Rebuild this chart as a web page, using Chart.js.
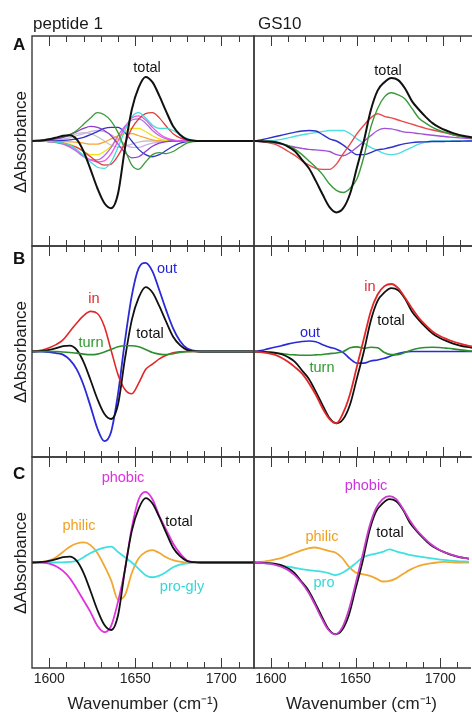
<!DOCTYPE html>
<html><head><meta charset="utf-8">
<script src="https://cdn.jsdelivr.net/npm/chart.js@4.4.1/dist/chart.umd.min.js"></script>
<style>
html,body{margin:0;padding:0;background:#fff;overflow:hidden;width:472px;height:716px;}
body{position:relative;font-family:"Liberation Sans",Arial,sans-serif;color:#1a1a1a;}
.t{position:absolute;white-space:nowrap;line-height:1;transform:translate(-50%,-50%);}
.ytitle{position:absolute;white-space:nowrap;line-height:1;font-size:17px;transform:translate(-50%,-50%) rotate(-90deg);}
</style></head><body>
<script>
// ---------- DATA ----------
const tickMarks = [1600,1610,1620,1630,1640,1650,1660,1670,1680,1690,1700,1710];
const tickLabels = [1600,1650,1700];

// peptide 1 (left column) wavenumber grid
const wnPeptide = [1590,1596,1600,1604,1608,1612,1616,1620,1624,1628,1632,1636,1640,1644,1648,1652,1656,1660,1664,1668,1672,1676,1680,1684,1688,1694,1700,1719];
const p1Total   = [0,0.005,0.016,0.032, 0.05,0.055,0.015,-0.1, -0.27,-0.45,-0.59,-0.64, -0.5,-0.07,0.3,0.51, 0.61,0.56,0.43,0.28, 0.14,0.06,0.015,0.003, 0,0,0,0];
const p1Green   = [0,0.01,0.02,0.03, 0.045,0.06,0.1,0.16, 0.22,0.27,0.25,0.19, 0.08,-0.08,-0.23,-0.27, -0.2,-0.13,-0.11,-0.12, -0.1,-0.06,-0.02,-0.005, 0,0,0,0];
const p1Cyan    = [0,0,-0.005,-0.01, -0.02,-0.04,-0.08,-0.14, -0.2,-0.25,-0.26,-0.2, -0.06,0.1,0.23,0.27, 0.22,0.15,0.12,0.12, 0.1,0.06,0.025,0.008, 0,0,0,0];
const p1Red     = [0,0,-0.005,-0.01, -0.02,-0.04,-0.06,-0.1, -0.15,-0.2,-0.23,-0.22, -0.14,-0.02,0.12,0.21, 0.26,0.27,0.22,0.14, 0.07,0.03,0.01,0.003, 0,0,0,0];
const p1Magenta = [0,0,-0.005,-0.01, -0.025,-0.05,-0.09,-0.14, -0.18,-0.2,-0.19,-0.12, 0,0.13,0.22,0.24, 0.2,0.13,0.07,0.03, 0.01,0,0,0, 0,0,0,0];
const p1Purple  = [0,0.005,0.01,0.02, 0.035,0.06,0.09,0.12, 0.14,0.13,0.1,0.05, -0.03,-0.11,-0.16,-0.15, -0.1,-0.05,-0.02,-0.005, 0,0,0,0, 0,0,0,0];
const p1Violet  = [0,0,-0.005,-0.015, -0.03,-0.06,-0.1,-0.15, -0.18,-0.18,-0.14,-0.06, 0.05,0.14,0.2,0.21, 0.17,0.1,0.05,0.02, 0.005,0,0,0, 0,0,0,0];
const p1Blue    = [0,0,0,0.002, 0.005,0.01,0.02,0.035, 0.06,0.09,0.12,0.13, 0.13,0.08,0,-0.08, -0.13,-0.15,-0.13,-0.09, -0.05,-0.02,-0.005,0, 0,0,0,0];
const p1Gray    = [0,0.005,0.01,0.02, 0.035,0.05,0.07,0.08, 0.07,0.04,0,-0.04, -0.06,-0.05,-0.03,-0.01, 0,0,0,0, 0,0,0,0, 0,0,0,0];
const p1Yellow  = [0,0,0,-0.005, -0.015,-0.03,-0.06,-0.1, -0.13,-0.13,-0.1,-0.05, 0.02,0.08,0.12,0.12, 0.09,0.05,0.02,0.005, 0,0,0,0, 0,0,0,0];
const p1Orange  = [0,0,0,0, -0.005,-0.008,-0.012,-0.02, -0.03,-0.03,-0.01,0.02, 0.05,0.07,0.07,0.05, 0.03,0.01,0,0, 0,0,0,0, 0,0,0,0];
const p1Lavender= [0,0,0.005,0.01, 0.02,0.03,0.05,0.07, 0.09,0.1,0.09,0.06, 0.02,-0.03,-0.06,-0.06, -0.04,-0.02,-0.01,0, 0,0,0,0, 0,0,0,0];
const p1Out     = [0,0,-0.005,-0.015, -0.03,-0.08,-0.17,-0.32, -0.52,-0.73,-0.85,-0.76, -0.4,0.1,0.53,0.79, 0.84,0.76,0.58,0.39, 0.22,0.1,0.03,0.008, 0,0,0,0];
const p1In      = [0,0.015,0.035,0.065, 0.11,0.19,0.27,0.34, 0.38,0.36,0.24,0.01, -0.22,-0.36,-0.4,-0.3, -0.17,-0.12,-0.07,-0.035, -0.012,-0.003,0,0, 0,0,0,0];
const p1Turn    = [0,0,0,0, -0.005,-0.01,-0.015,-0.025, -0.03,-0.025,-0.005,0.02, 0.045,0.055,0.055,0.045, 0.02,-0.01,-0.025,-0.03, -0.02,-0.01,-0.003,0, 0,0,0,0];
const p1Phobic  = [0,0,-0.01,-0.035, -0.08,-0.15,-0.25,-0.36, -0.47,-0.6,-0.66,-0.6, -0.37,-0.07,0.33,0.6, 0.67,0.6,0.44,0.31, 0.18,0.086,0.02,0.005, 0,0,0,0];
const p1Philic  = [0,0.005,0.02,0.05, 0.1,0.15,0.18,0.19, 0.165,0.09,-0.03,-0.17, -0.35,-0.31,-0.1,0.04, 0.1,0.117,0.09,0.05, 0.022,0.008,0,0, 0,0,0,0];
const p1ProGly  = [0,0,0,0, 0.002,0.005,0.015,0.05, 0.09,0.12,0.14,0.15, 0.1,0.05,0,-0.06, -0.12,-0.14,-0.125,-0.09, -0.045,-0.02,-0.008,0, 0,0,0,0];

// GS10 (right column) wavenumber grid
const wnGS10 = [1590,1594,1598,1602,1606,1610,1614,1618,1622,1626,1630,1634,1638,1642,1646,1650,1654,1658,1662,1666,1670,1674,1678,1682,1686,1690,1694,1698,1702,1706,1710,1714,1718];
const gsTotal  = [0,-0.002,-0.005,-0.01, -0.025,-0.055,-0.1,-0.18, -0.26,-0.38,-0.51,-0.63, -0.68,-0.64,-0.5,-0.25, 0,0.29,0.48,0.56, 0.6,0.58,0.5,0.38, 0.3,0.23,0.17,0.13, 0.1,0.075,0.056,0.043, 0.033];
const gsGreen  = [0,-0.002,-0.005,-0.012, -0.025,-0.045,-0.08,-0.13, -0.19,-0.25,-0.32,-0.41, -0.47,-0.49,-0.45,-0.36, -0.15,0.13,0.31,0.42, 0.46,0.44,0.4,0.31, 0.22,0.17,0.13,0.1, 0.08,0.06,0.045,0.035, 0.025];
const gsRed    = [0,-0.005,-0.015,-0.03, -0.06,-0.1,-0.14,-0.19, -0.23,-0.26,-0.27,-0.27, -0.22,-0.12,-0.03,0.07, 0.15,0.22,0.26,0.235, 0.22,0.2,0.18,0.16, 0.14,0.12,0.105,0.09, 0.075,0.06,0.045,0.035, 0.026];
const gsPurple = [0,-0.005,-0.01,-0.02, -0.03,-0.045,-0.06,-0.07, -0.08,-0.085,-0.09,-0.1, -0.13,-0.14,-0.11,-0.06, -0.005,0.05,0.1,0.12, 0.115,0.1,0.085,0.08, 0.07,0.062,0.055,0.048, 0.04,0.035,0.03,0.025, 0.02];
const gsBlue   = [0,0.01,0.025,0.04, 0.055,0.07,0.085,0.095, 0.1,0.095,0.06,0.02, 0,-0.04,-0.09,-0.13, -0.13,-0.11,-0.085,-0.075, -0.06,-0.04,-0.025,-0.015, -0.01,-0.008,-0.005,-0.005, -0.004,-0.003,-0.002,0, 0];
const gsCyan   = [0,0,0,0.005, 0.015,0.03,0.045,0.06, 0.07,0.08,0.09,0.1, 0.1,0.1,0.07,0.02, -0.02,-0.06,-0.09,-0.12, -0.13,-0.12,-0.09,-0.06, -0.03,-0.01,0,0, 0,0,0,0, 0];
const gsIn     = [0,-0.005,-0.015,-0.03, -0.06,-0.1,-0.15,-0.21, -0.3,-0.41,-0.54,-0.64, -0.68,-0.58,-0.4,-0.14, 0.12,0.38,0.54,0.62, 0.64,0.6,0.51,0.41, 0.32,0.25,0.19,0.15, 0.12,0.095,0.075,0.058, 0.045];
const gsOut    = [0,0.01,0.025,0.04, 0.055,0.072,0.085,0.095, 0.1,0.092,0.065,0.04, 0.022,-0.01,-0.07,-0.11, -0.11,-0.09,-0.08,-0.065, -0.04,-0.02,-0.005,0, 0,0,0,0, 0,0,0,0, 0];
const gsTurn   = [0,-0.005,-0.01,-0.015, -0.02,-0.028,-0.032,-0.035, -0.035,-0.032,-0.028,-0.02, -0.015,0,0.035,0.044, 0.03,0.04,0.035,-0.01, -0.03,-0.03,-0.01,0.015, 0.03,0.038,0.04,0.038, 0.032,0.025,0.015,0.008, 0.003];
const gsPhobic = [0,-0.003,-0.01,-0.02, -0.04,-0.07,-0.12,-0.19, -0.28,-0.4,-0.53,-0.64, -0.68,-0.62,-0.45,-0.2, 0.06,0.33,0.51,0.6, 0.63,0.6,0.51,0.4, 0.31,0.24,0.18,0.135, 0.1,0.078,0.058,0.044, 0.034];
const gsPhilic = [0,0.005,0.015,0.028, 0.042,0.065,0.09,0.115, 0.135,0.142,0.128,0.11, 0.095,0.045,-0.04,-0.095, -0.11,-0.125,-0.15,-0.18, -0.175,-0.15,-0.11,-0.07, -0.04,-0.02,-0.008,0, 0.005,0.003,0,0, 0];
const gsPro    = [0,-0.005,-0.01,-0.018, -0.028,-0.04,-0.05,-0.062, -0.072,-0.08,-0.087,-0.1, -0.12,-0.1,-0.06,-0.008, 0.045,0.07,0.085,0.1, 0.125,0.105,0.09,0.072, 0.06,0.05,0.042,0.032, 0.024,0.018,0.013,0.01, 0.008];

// ---------- LAYOUT ----------
const AXIS_H = 48;
const rows = [{top:36,h:210},{top:246,h:211},{top:457,h:211}];
const cols = [{left:32,w:222,xmin:1590,xmax:1719},{left:254,w:218,xmin:1590,xmax:1717}];
const FONT = '"Liberation Sans", Arial, sans-serif';
Chart.defaults.font.family = FONT;

const framePlugin = {
  id: 'frame',
  afterDatasetsDraw(chart, args, opts) {
    const { ctx, chartArea: a, scales: { x } } = chart;
    ctx.save();
    ctx.strokeStyle = '#3a3a3a';
    ctx.lineWidth = 1;
    ctx.beginPath();
    tickMarks.forEach(v => {
      const px = Math.round(x.getPixelForValue(v)) + 0.5;
      const len = tickLabels.includes(v) ? 10 : 6;
      ctx.moveTo(px, a.top); ctx.lineTo(px, a.top + len);
      ctx.moveTo(px, a.bottom); ctx.lineTo(px, a.bottom - len);
    });
    ctx.stroke();
    ctx.lineWidth = 1.4;
    ctx.beginPath();
    const r = opts.closeRight ? a.right : a.right + 2;
    ctx.moveTo(r, a.top); ctx.lineTo(a.left, a.top); ctx.lineTo(a.left, a.bottom); ctx.lineTo(r, a.bottom);
    if (opts.closeRight) ctx.closePath();
    ctx.stroke();
    ctx.restore();
  }
};

function ds(wn, vals, color, width) {
  return { data: wn.map((w, i) => ({ x: w, y: vals[i] })), borderColor: color, borderWidth: width,
           pointRadius: 0, fill: false, cubicInterpolationMode: 'monotone' };
}

function makePanel(col, row, datasets) {
  const c = cols[col], r = rows[row];
  const bottom = row === 2;
  const padL = 4, padR = col === 0 ? 4 : 0, padT = 4, padB = bottom ? 0 : 4;
  const W = c.w + padL + padR, H = r.h + padT + (bottom ? AXIS_H : padB);
  const cv = document.createElement('canvas');
  cv.width = W; cv.height = H;
  cv.style.cssText = `position:absolute;left:${c.left - padL}px;top:${r.top - padT}px;width:${W}px;height:${H}px`;
  document.body.appendChild(cv);
  new Chart(cv, {
    type: 'line',
    data: { datasets },
    options: {
      responsive: false, animation: false, events: [],
      layout: { padding: { left: padL, right: padR, top: padT, bottom: padB } },
      plugins: { legend: { display: false }, tooltip: { enabled: false }, frame: { closeRight: col === 0 } },
      scales: {
        x: {
          type: 'linear', min: c.xmin, max: c.xmax, display: bottom,
          grid: { display: false, drawTicks: false }, border: { display: false },
          afterFit: s => { if (bottom) s.height = AXIS_H; },
          ticks: { stepSize: 10, autoSkip: false, maxRotation: 0, padding: 3, color: '#222',
                   font: { family: FONT, size: 14 },
                   callback: v => tickLabels.includes(v) ? String(v) : '' },
          title: { display: bottom, text: 'Wavenumber (cm⁻¹)', color: '#222',
                   font: { family: FONT, size: 17 }, padding: { top: 0, bottom: 1 } }
        },
        y: { display: false, min: -1, max: 1 }
      }
    },
    plugins: [framePlugin]
  });
}

// Panel A
makePanel(0, 0, [
  ds(wnPeptide, p1Total, '#111111', 2),
  ds(wnPeptide, p1Green, '#3a9a3a', 1.3),
  ds(wnPeptide, p1Cyan, '#40dcdc', 1.3),
  ds(wnPeptide, p1Red, '#e23c3c', 1.3),
  ds(wnPeptide, p1Magenta, '#ee55ee', 1.3),
  ds(wnPeptide, p1Purple, '#8a3ccc', 1.3),
  ds(wnPeptide, p1Violet, '#b070e0', 1.3),
  ds(wnPeptide, p1Blue, '#3434c8', 1.3),
  ds(wnPeptide, p1Yellow, '#f2e21a', 1.3),
  ds(wnPeptide, p1Orange, '#f7a531', 1.3),
  ds(wnPeptide, p1Lavender, '#c9b0e8', 1.3),
  ds(wnPeptide, p1Gray, '#c4c4c4', 1.3)
]);
makePanel(1, 0, [
  ds(wnGS10, gsTotal, '#111111', 2),
  ds(wnGS10, gsGreen, '#3a9a3a', 1.4),
  ds(wnGS10, gsRed, '#e84a4a', 1.4),
  ds(wnGS10, gsPurple, '#a050d8', 1.4),
  ds(wnGS10, gsBlue, '#3030cc', 1.4),
  ds(wnGS10, gsCyan, '#50dede', 1.4)
]);
// Panel B
makePanel(0, 1, [
  ds(wnPeptide, p1Turn, '#2e8f2e', 1.6),
  ds(wnPeptide, p1Total, '#111111', 1.8),
  ds(wnPeptide, p1In, '#e02828', 1.6),
  ds(wnPeptide, p1Out, '#2a2ad8', 1.8)
]);
makePanel(1, 1, [
  ds(wnGS10, gsIn, '#e02828', 1.8),
  ds(wnGS10, gsTotal, '#111111', 1.8),
  ds(wnGS10, gsTurn, '#2e8f2e', 1.6),
  ds(wnGS10, gsOut, '#2a2ad8', 1.6)
]);
// Panel C
makePanel(0, 2, [
  ds(wnPeptide, p1Total, '#111111', 1.8),
  ds(wnPeptide, p1Phobic, '#e030e0', 1.8),
  ds(wnPeptide, p1ProGly, '#40e0e0', 1.8),
  ds(wnPeptide, p1Philic, '#f0a830', 1.8)
]);
makePanel(1, 2, [
  ds(wnGS10, gsPhobic, '#c83ccc', 1.8),
  ds(wnGS10, gsTotal, '#111111', 1.8),
  ds(wnGS10, gsPro, '#40e0e0', 1.8),
  ds(wnGS10, gsPhilic, '#f0a830', 1.8)
]);

// ---------- TEXT ----------
function addText(txt, x, y, color, size, extra) {
  const d = document.createElement('div');
  d.className = 't';
  d.textContent = txt;
  d.style.left = x + 'px'; d.style.top = y + 'px';
  d.style.color = color; d.style.fontSize = size + 'px';
  if (extra) Object.assign(d.style, extra);
  document.body.appendChild(d);
}
const annotations = [
  ['total', 147, 67, '#111'], ['total', 388, 70, '#111'],
  ['out', 167, 268, '#2222dd'], ['in', 94, 298, '#e02828'], ['turn', 91, 342, '#2e9a2e'], ['total', 150, 333, '#111'],
  ['in', 370, 286, '#e02838'], ['total', 391, 320, '#111'], ['out', 310, 332, '#2222dd'], ['turn', 322, 367, '#2e9a2e'],
  ['phobic', 123, 477, '#e030e0'], ['philic', 79, 525, '#f0a020'], ['total', 179, 521, '#111'], ['pro-gly', 182, 586, '#33d8d8'],
  ['phobic', 366, 485, '#cc33dd'], ['philic', 322, 536, '#f0a020'], ['total', 390, 532, '#111'], ['pro', 324, 582, '#33d8d8']
];
annotations.forEach(a => addText(a[0], a[1], a[2], a[3], 14.5));

// column titles
[['peptide 1', 33], ['GS10', 258]].forEach(([t, x]) => {
  const d = document.createElement('div');
  d.style.cssText = `position:absolute;left:${x}px;top:15px;font-size:17px;line-height:17px;color:#1a1a1a;white-space:nowrap`;
  d.textContent = t; document.body.appendChild(d);
});
// panel letters
[['A', 36], ['B', 250], ['C', 465]].forEach(([t, y]) => {
  const d = document.createElement('div');
  d.style.cssText = `position:absolute;left:13px;top:${y}px;font-size:17px;line-height:17px;font-weight:bold;color:#111`;
  d.textContent = t; document.body.appendChild(d);
});
// y titles
[141.5, 352, 563].forEach(y => {
  const d = document.createElement('div');
  d.className = 'ytitle';
  d.style.left = '20px'; d.style.top = y + 'px';
  d.textContent = 'ΔAbsorbance'; document.body.appendChild(d);
});
</script>
</body></html>
